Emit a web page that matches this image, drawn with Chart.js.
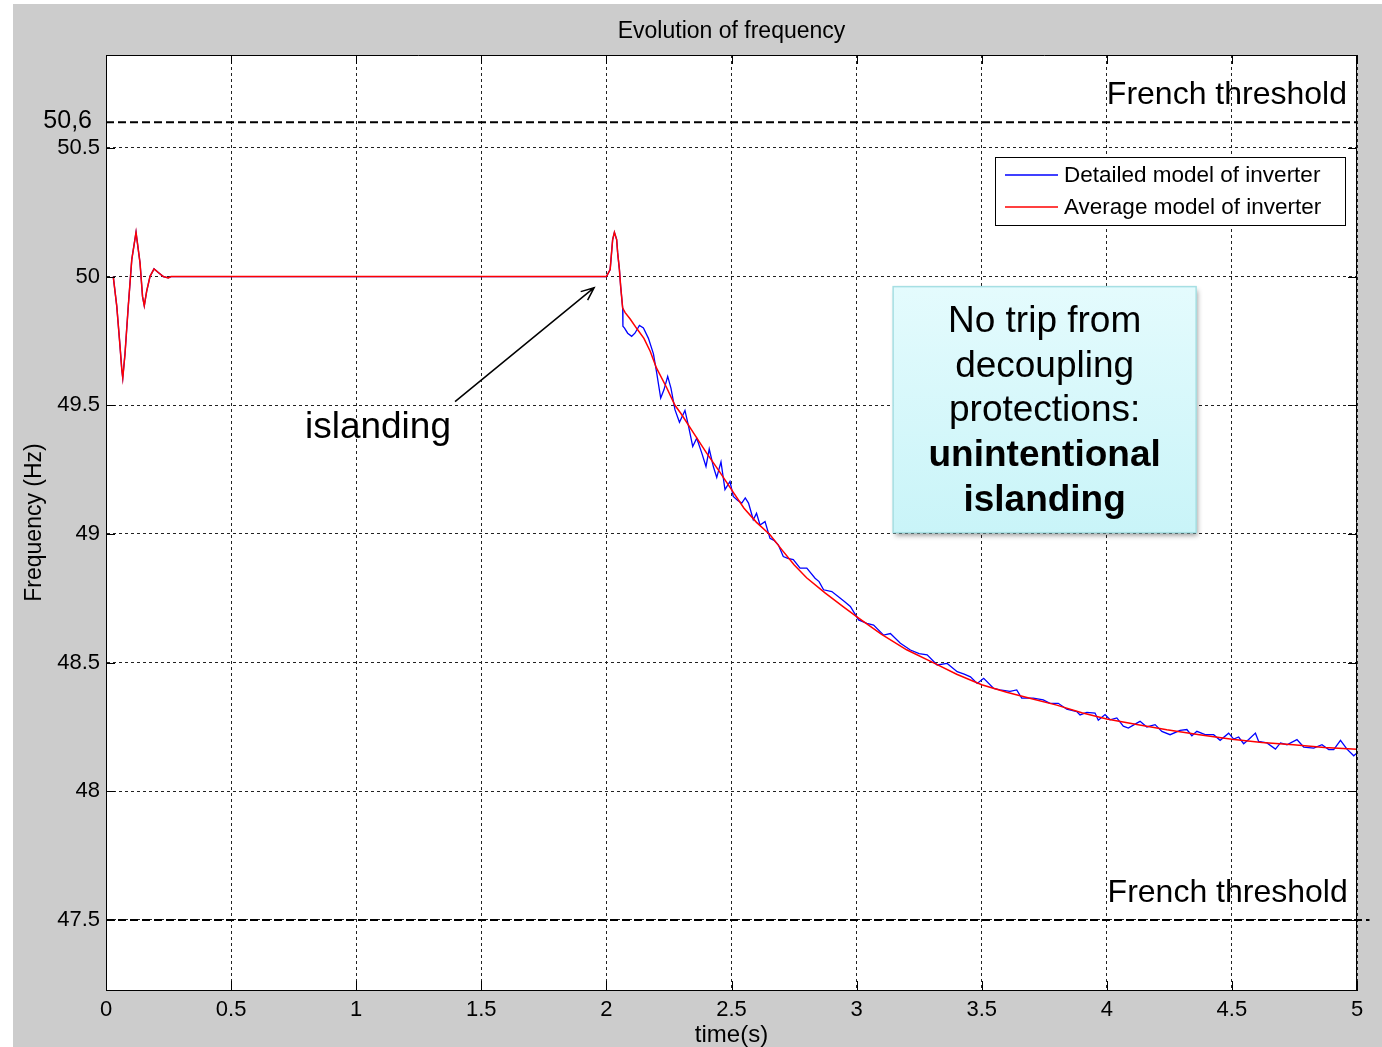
<!DOCTYPE html>
<html>
<head>
<meta charset="utf-8">
<script src="https://cdn.jsdelivr.net/npm/chart.js@4.4.1/dist/chart.umd.min.js"></script>
<style>
  html, body { margin: 0; padding: 0; background: #fff; }
  canvas { display: block; }
</style>
</head>
<body>
<canvas id="freqChart" width="1382" height="1047"></canvas>
<script>
// Average model of inverter (red)
const avgTime = [0.029,0.043,0.056,0.063,0.067,0.076,0.089,0.103,0.12,0.136,0.146,0.153,0.1625,0.176,0.192,0.209,0.229,0.249,0.26,
  2.0,2.015,2.025,2.032,2.041,2.045,2.052,2.057,2.065,2.075,2.095,2.12,2.15,2.175,2.2,2.24,2.274,2.3,2.35,2.4,2.45,2.5,2.55,2.6,2.654,
  2.7,2.75,2.8,2.875,2.95,3.0,3.1,3.2,3.306,3.4,3.5,3.6,3.7,3.8,3.9,4.0,4.12,4.24,4.37,4.5,4.62,4.746,4.87,5.0];
const avgFreq = [50,49.885,49.73,49.64,49.606,49.70,49.885,50.066,50.172,50.053,49.923,49.887,49.943,50.001,50.03,50.016,50.0,49.995,50.0,
  50,50.027,50.144,50.172,50.144,50.092,50.027,49.962,49.878,49.86,49.835,49.80,49.76,49.71,49.645,49.57,49.50,49.465,49.39,49.315,49.245,49.172,49.10,49.045,48.997,
  48.94,48.88,48.83,48.77,48.715,48.679,48.61,48.55,48.50,48.455,48.414,48.385,48.36,48.335,48.305,48.281,48.26,48.239,48.22,48.202,48.19,48.181,48.17,48.163];

// Detailed model of inverter (blue)
const detTime = [0.029,0.043,0.056,0.063,0.067,0.076,0.089,0.103,0.12,0.136,0.146,0.153,0.1625,0.176,0.192,0.209,0.229,0.249,0.26,
  2.0,2.015,2.025,2.032,2.041,2.045,2.052,2.057,2.065,2.066,2.0725,2.085,2.101,2.114,2.132,2.148,2.168,2.188,2.201,2.217,2.230,2.245,2.258,2.274,
  2.292,2.314,2.328,2.345,2.361,2.381,2.398,2.411,2.428,2.441,2.458,2.474,2.494,2.507,2.525,2.541,2.555,2.568,2.587,2.600,2.614,2.634,2.654,
  2.670,2.687,2.707,2.725,2.747,2.774,2.801,2.834,2.850,2.868,2.901,2.935,2.955,2.975,3.008,3.041,3.068,3.108,3.135,3.175,3.215,3.250,3.282,
  3.322,3.362,3.402,3.430,3.455,3.482,3.508,3.548,3.573,3.613,3.640,3.660,3.706,3.746,3.773,3.806,3.840,3.880,3.893,3.920,3.953,3.966,3.993,
  4.013,4.040,4.066,4.086,4.120,4.133,4.160,4.193,4.220,4.253,4.293,4.320,4.340,4.360,4.393,4.427,4.453,4.487,4.507,4.527,4.547,4.567,4.594,
  4.607,4.640,4.674,4.694,4.720,4.760,4.787,4.827,4.860,4.887,4.907,4.934,4.960,4.987,5.0];
const detFreq = [50,49.885,49.73,49.64,49.606,49.70,49.885,50.066,50.172,50.053,49.923,49.887,49.943,50.001,50.03,50.016,50.0,49.995,50.0,
  50,50.027,50.144,50.172,50.144,50.092,50.027,49.962,49.878,49.807,49.80,49.78,49.768,49.78,49.81,49.80,49.76,49.70,49.626,49.528,49.56,49.612,49.567,49.483,
  49.434,49.48,49.42,49.34,49.372,49.315,49.262,49.33,49.26,49.22,49.28,49.172,49.204,49.146,49.13,49.12,49.14,49.12,49.055,49.08,49.035,49.048,48.983,
  48.975,48.958,48.912,48.905,48.900,48.867,48.867,48.828,48.815,48.783,48.776,48.750,48.735,48.718,48.666,48.653,48.646,48.607,48.613,48.575,48.549,48.535,48.530,
  48.491,48.497,48.465,48.455,48.445,48.419,48.439,48.400,48.394,48.388,48.394,48.362,48.362,48.355,48.342,48.342,48.319,48.310,48.297,48.307,48.304,48.276,48.298,
  48.278,48.285,48.253,48.246,48.265,48.272,48.250,48.259,48.233,48.220,48.237,48.240,48.216,48.233,48.220,48.220,48.198,48.226,48.203,48.211,48.185,48.201,48.226,
  48.194,48.188,48.164,48.188,48.181,48.201,48.172,48.168,48.181,48.162,48.162,48.198,48.164,48.138,48.149];

// thresholds and axis ticks
const thresholdHigh = 50.6;
const thresholdLow = 47.5;
const xTicks = [0, 0.5, 1, 1.5, 2, 2.5, 3, 3.5, 4, 4.5, 5];
const yTicks = [47.5, 48, 48.5, 49, 49.5, 50, 50.5];

const seriesNames = ['Detailed model of inverter', 'Average model of inverter'];
const noteLines = ['No trip from', 'decoupling', 'protections:', 'unintentional', 'islanding'];

function toPoints(ts, fs) {
  return ts.map((t, i) => ({ x: t, y: fs[i] }));
}

const FONT = 'Arial, "Liberation Sans", Helvetica, sans-serif';

// background, annotations, legend and frame
const decorations = {
  id: 'decorations',
  beforeDraw(chart) {
    const { ctx, chartArea: a } = chart;
    ctx.save();
    ctx.fillStyle = '#ffffff';
    ctx.fillRect(0, 0, chart.width, chart.height);
    ctx.fillStyle = '#cccccc';
    ctx.fillRect(13, 4, chart.width - 13, chart.height - 4);
    ctx.fillStyle = '#ffffff';
    ctx.fillRect(a.left, a.top, a.right - a.left, a.bottom - a.top);
    ctx.restore();
  },
  afterDatasetsDraw(chart) {
    const { ctx, chartArea: a, scales: { x, y } } = chart;
    ctx.save();

    // frame + inward ticks
    ctx.strokeStyle = '#000';
    ctx.lineWidth = 1;
    ctx.beginPath();
    ctx.moveTo(a.left, a.top + 0.5); ctx.lineTo(a.right, a.top + 0.5);
    ctx.moveTo(a.right - 0.5, a.top); ctx.lineTo(a.right - 0.5, a.bottom);
    xTicks.forEach(v => {
      const px = Math.round(x.getPixelForValue(v)) + 0.5;
      ctx.moveTo(px, a.bottom); ctx.lineTo(px, a.bottom - 9);
      ctx.moveTo(px, a.top); ctx.lineTo(px, a.top + 9);
    });
    yTicks.forEach(v => {
      const py = Math.round(y.getPixelForValue(v)) + 0.5;
      ctx.moveTo(a.left, py); ctx.lineTo(a.left + 9, py);
      ctx.moveTo(a.right, py); ctx.lineTo(a.right - 9, py);
    });
    ctx.stroke();

    // threshold labels
    ctx.fillStyle = '#000';
    ctx.font = '32px ' + FONT;
    ctx.textAlign = 'right';
    ctx.textBaseline = 'middle';
    ctx.fillText('French threshold', x.getPixelForValue(4.96), y.getPixelForValue(50.703));
    ctx.fillText('French threshold', x.getPixelForValue(4.963), y.getPixelForValue(47.605));
    ctx.font = '25px ' + FONT;
    ctx.fillText('50,6', 92, y.getPixelForValue(thresholdHigh) - 1);

    // islanding arrow
    const x0 = x.getPixelForValue(1.395), y0 = y.getPixelForValue(49.514);
    const x1 = x.getPixelForValue(1.951), y1 = y.getPixelForValue(49.957);
    ctx.lineWidth = 1.5;
    ctx.beginPath();
    ctx.moveTo(x0, y0); ctx.lineTo(x1, y1);
    const ang = Math.atan2(y1 - y0, x1 - x0);
    ctx.moveTo(x1 - 14 * Math.cos(ang - 0.4), y1 - 14 * Math.sin(ang - 0.4));
    ctx.lineTo(x1, y1);
    ctx.lineTo(x1 - 14 * Math.cos(ang + 0.4), y1 - 14 * Math.sin(ang + 0.4));
    ctx.stroke();
    ctx.font = '37px ' + FONT;
    ctx.textAlign = 'center';
    ctx.fillText('islanding', x.getPixelForValue(1.087), y.getPixelForValue(49.413));

    // note box
    const bx0 = x.getPixelForValue(3.146), bx1 = x.getPixelForValue(4.357);
    const by0 = y.getPixelForValue(49.961), by1 = y.getPixelForValue(49.005);
    ctx.save();
    ctx.shadowColor = 'rgba(0,0,0,0.4)';
    ctx.shadowBlur = 5;
    ctx.shadowOffsetX = 2;
    ctx.shadowOffsetY = 3;
    const grad = ctx.createLinearGradient(0, by0, 0, by1);
    grad.addColorStop(0, '#e4fbfd');
    grad.addColorStop(1, '#c9f4f8');
    ctx.fillStyle = grad;
    ctx.fillRect(bx0, by0, bx1 - bx0, by1 - by0);
    ctx.restore();
    ctx.strokeStyle = '#a6dfe3';
    ctx.lineWidth = 1.5;
    ctx.strokeRect(bx0, by0, bx1 - bx0, by1 - by0);
    ctx.fillStyle = '#000';
    const bcx = (bx0 + bx1) / 2;
    noteLines.forEach((line, i) => {
      ctx.font = (i >= 3 ? 'bold 37px ' : '37px ') + FONT;
      ctx.fillText(line, bcx, by0 + 35 + i * 44.8);
    });

    // legend
    const lx = Math.round(a.right - 362), ly = Math.round(a.top + 102), lw = 350, lh = 68;
    ctx.fillStyle = '#fff';
    ctx.fillRect(lx, ly, lw, lh);
    ctx.strokeStyle = '#000';
    ctx.lineWidth = 1;
    ctx.strokeRect(lx + 0.5, ly + 0.5, lw, lh);
    const legendColors = ['#0000ff', '#ff0000'];
    seriesNames.forEach((name, i) => {
      const yy = ly + 18 + i * 32;
      ctx.strokeStyle = legendColors[i];
      ctx.lineWidth = 1.5;
      ctx.beginPath();
      ctx.moveTo(lx + 10, yy); ctx.lineTo(lx + 63, yy);
      ctx.stroke();
      ctx.fillStyle = '#000';
      ctx.font = '22.5px ' + FONT;
      ctx.textAlign = 'left';
      ctx.fillText(name, lx + 69, yy + 1);
    });

    ctx.restore();
  }
};

const ctx = document.getElementById('freqChart');
const freqChart = new Chart(ctx, {
  type: 'line',
  data: {
    datasets: [
      {
        label: seriesNames[1],
        data: toPoints(avgTime, avgFreq),
        borderColor: '#ff0000',
        borderWidth: 1.5,
        pointRadius: 0,
        order: 0,
      },
      {
        label: seriesNames[0],
        data: toPoints(detTime, detFreq),
        borderColor: '#0000ff',
        borderWidth: 1.3,
        pointRadius: 0,
        order: 1,
      },
      {
        label: 'French threshold high',
        data: toPoints([0, 5], [thresholdHigh, thresholdHigh]),
        borderColor: '#000',
        borderWidth: 2,
        borderDash: [8, 4],
        pointRadius: 0,
        order: 2,
      },
      {
        label: 'French threshold low',
        data: toPoints([0, 5.05], [thresholdLow, thresholdLow]),
        borderColor: '#000',
        borderWidth: 2,
        borderDash: [8, 4],
        pointRadius: 0,
        clip: false,
        order: 2,
      },
    ],
  },
  options: {
    responsive: false,
    animation: false,
    devicePixelRatio: 1,
    layout: { padding: { left: 0, top: 0, right: 25, bottom: 0 } },
    plugins: {
      legend: { display: false },
      tooltip: { enabled: false },
      title: {
        display: true,
        text: 'Evolution of frequency',
        fullSize: false,
        color: '#000',
        font: { family: FONT, size: 23, weight: 'normal', lineHeight: 1 },
        padding: { top: 20.5, bottom: 11.5 },
      },
    },
    scales: {
      x: {
        type: 'linear',
        min: 0,
        max: 5,
        afterFit(scale) { scale.height = 57; },
        afterBuildTicks(scale) { scale.ticks = xTicks.map(v => ({ value: v })); },
        ticks: {
          color: '#000',
          font: { family: FONT, size: 22 },
          padding: 7,
          maxRotation: 0,
          callback: v => String(v),
        },
        grid: { color: '#222', lineWidth: 1, drawTicks: false },
        border: { display: true, color: '#000', width: 1, dash: [3, 3] },
        title: {
          display: true,
          text: 'time(s)',
          color: '#000',
          font: { family: FONT, size: 24, lineHeight: 1 },
          padding: { top: 0, bottom: 0 },
        },
      },
      y: {
        type: 'linear',
        min: 47.228,
        max: 50.861,
        afterFit(scale) { scale.width = 106; },
        afterBuildTicks(scale) { scale.ticks = yTicks.map(v => ({ value: v })); },
        ticks: {
          color: '#000',
          font: { family: FONT, size: 22 },
          padding: 6,
          callback: v => String(v),
        },
        grid: { color: '#222', lineWidth: 1, drawTicks: false },
        border: { display: true, color: '#000', width: 1, dash: [3, 3] },
        title: {
          display: true,
          text: 'Frequency (Hz)',
          color: '#000',
          font: { family: FONT, size: 23, lineHeight: 1 },
          padding: { top: 23.5, bottom: 0 },
        },
      },
    },
  },
  plugins: [decorations],
});
</script>
</body>
</html>
